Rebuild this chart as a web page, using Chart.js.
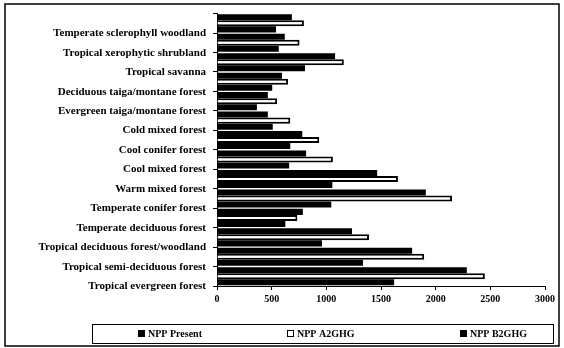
<!DOCTYPE html>
<html>
<head>
<meta charset="utf-8">
<script src="https://cdn.jsdelivr.net/npm/chart.js@4.4.0/dist/chart.umd.min.js"></script>
<style>
  html, body { margin: 0; padding: 0; background: #fff; }
</style>
</head>
<body>
<canvas id="npp" width="564" height="348"></canvas>
<script>
// vegetation types, top to bottom as in the figure
var biomes = [
  'Temperate sclerophyll woodland',
  'Tropical xerophytic shrubland',
  'Tropical savanna',
  'Deciduous taiga/montane forest',
  'Evergreen taiga/montane forest',
  'Cold mixed forest',
  'Cool conifer forest',
  'Cool mixed forest',
  'Warm mixed forest',
  'Temperate conifer forest',
  'Temperate deciduous forest',
  'Tropical deciduous forest/woodland',
  'Tropical semi-deciduous forest',
  'Tropical evergreen forest'
];

// NPP values
var nppPresent = [540, 565, 805, 505, 365, 510, 670, 660, 1055, 1045, 625, 960, 1335, 1620];
var nppA2GHG   = [795, 755, 1160, 650, 550, 670, 935, 1060, 1655, 2150, 735, 1390, 1895, 2450];
var nppB2GHG   = [685, 620, 1080, 595, 465, 465, 780, 815, 1465, 1910, 785, 1235, 1785, 2285];

var xTicks = [0, 500, 1000, 1500, 2000, 2500, 3000];

Chart.defaults.font.family = '"Liberation Serif", "Times New Roman", serif';
Chart.defaults.color = '#000';

// outer frame + boxed legend like the scanned figure
var framePlugin = {
  id: 'framePlugin',
  beforeDraw: function (chart) {
    var c = chart.ctx;
    c.save();
    c.fillStyle = '#fff';
    c.fillRect(0, 0, chart.width, chart.height);
    c.restore();
  },
  afterDraw: function (chart) {
    var c = chart.ctx;
    c.save();
    c.strokeStyle = '#000';
    c.lineWidth = 1.5;
    c.strokeRect(5, 4, 554, 342);

    c.lineWidth = 1;
    c.strokeRect(92.5, 324.5, 461, 19);

    // legend in series order: Present, A2GHG, B2GHG
    var sets = chart.data.datasets.slice().reverse();
    var xs = [138, 287, 460];
    c.font = 'bold 10px "Liberation Serif", serif';
    c.textBaseline = 'middle';
    for (var i = 0; i < sets.length; i++) {
      var ds = sets[i];
      c.fillStyle = ds.backgroundColor;
      c.fillRect(xs[i], 330, 7, 7);
      c.strokeStyle = '#000';
      c.strokeRect(xs[i] + 0.5, 330.5, 6, 6);
      c.fillStyle = '#000';
      c.fillText(ds.label, xs[i] + 10, 334);
    }
    c.restore();
  }
};

var ctx = document.getElementById('npp');

// B2GHG first so it sits on top of each group, Present at the bottom (Excel order)
var chart = new Chart(ctx, {
  type: 'bar',
  data: {
    labels: biomes,
    datasets: [
      { label: 'NPP B2GHG', data: nppB2GHG, backgroundColor: '#000', borderColor: '#000', borderWidth: 0 },
      { label: 'NPP A2GHG', data: nppA2GHG, backgroundColor: '#fff', borderColor: '#000', borderWidth: 2 },
      { label: 'NPP Present', data: nppPresent, backgroundColor: '#000', borderColor: '#000', borderWidth: 0 }
    ]
  },
  options: {
    indexAxis: 'y',
    responsive: false,
    animation: false,
    categoryPercentage: 0.93,
    barPercentage: 1,
    layout: { padding: { left: 7, top: 13, right: 19, bottom: 42 } },
    plugins: {
      legend: { display: false },
      tooltip: { enabled: false }
    },
    scales: {
      x: {
        min: 0,
        max: 3000,
        afterBuildTicks: function (scale) {
          scale.ticks = xTicks.map(function (v) { return { value: v }; });
        },
        afterFit: function (scale) { scale.height = 20; },
        grid: { drawOnChartArea: false, tickLength: 4, color: '#000' },
        border: { color: '#000', width: 1 },
        ticks: {
          font: { size: 10, weight: 'bold' },
          padding: 3,
          maxRotation: 0,
          callback: function (v) { return String(v); }
        }
      },
      y: {
        afterFit: function (scale) { scale.width = 210; },
        grid: { drawOnChartArea: false, tickLength: 4, color: '#000', offset: true },
        border: { color: '#000', width: 1 },
        ticks: { font: { size: 11, weight: 'bold' }, labelOffset: 10, padding: 7, autoSkip: false }
      }
    }
  },
  plugins: [framePlugin]
});
</script>
</body>
</html>
